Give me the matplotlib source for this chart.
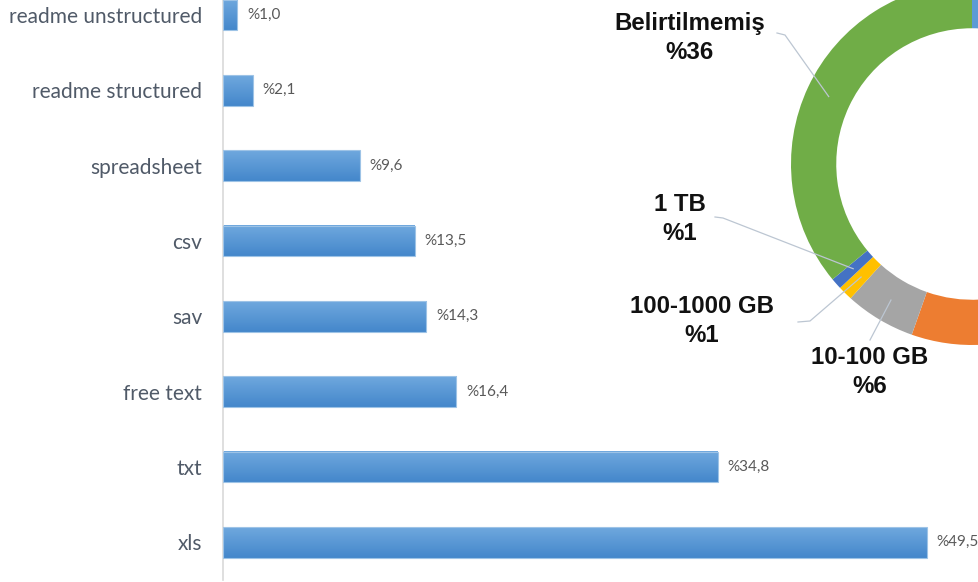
import numpy as np
import matplotlib
matplotlib.use("Agg")
import matplotlib.pyplot as plt
from matplotlib.colors import LinearSegmentedColormap

# bar chart data (top to bottom, as in the picture)
categories = ["readme unstructured", "readme structured", "spreadsheet", "csv",
              "sav", "free text", "txt", "xls"]
shares = [1.0, 2.1, 9.6, 13.5, 14.3, 16.4, 34.8, 49.5]
share_labels = ["%1,0", "%2,1", "%9,6", "%13,5", "%14,3", "%16,4", "%34,8", "%49,5"]

# donut data, clockwise from 12 o'clock; the first two slices are cut off in the picture
size_groups = ["", "", "10-100 GB", "100-1000 GB", "1 TB", "Belirtilmemiş"]
size_shares = [30.0, 25.4, 6.3, 1.3, 1.0, 36.0]
size_labels = ["", "", "%6", "%1", "%1", "%36"]
size_colors = ["#5B9BD5", "#ED7D31", "#A5A5A5", "#FFC000", "#4472C4", "#70AD47"]

W, H = 979, 582
fig = plt.figure(figsize=(W / 100, H / 100), dpi=100)

# ---- horizontal bar chart ----
ax = fig.add_axes([223 / W, 2 / H, (W - 223) / W, 580 / H])
ax.set_facecolor("none")
n = len(categories)
ypos = np.arange(n)[::-1]
bars = ax.barh(ypos, shares, height=0.405, color="none", edgecolor="#9DC3E6",
               linewidth=0.8, zorder=3)

grad = LinearSegmentedColormap.from_list("bar", ["#6FA8DE", "#4487CB"])
g = np.linspace(0, 1, 64).reshape(-1, 1)
for b in bars:
    x0, y0 = b.get_x(), b.get_y()
    ax.imshow(g, cmap=grad, aspect="auto", zorder=2,
              extent=[x0, x0 + b.get_width(), y0, y0 + b.get_height()])

for b, lab in zip(bars, share_labels):
    ax.annotate(lab, (b.get_width(), b.get_y() + b.get_height() / 2),
                xytext=(7, 0), textcoords="offset points", va="center", ha="left",
                fontsize=11, color="#595959", family="Lato")

ax.set_xlim(0, 756 / 14.22)
ax.set_ylim(-0.5, 7.2)
ax.set_yticks(ypos)
ax.set_yticklabels(categories, fontsize=15, color="#505A68", family="Lato")
ax.tick_params(axis="y", length=0, pad=15)
ax.set_xticks([])
for s in ["top", "right", "bottom"]:
    ax.spines[s].set_visible(False)
ax.spines["left"].set_color("#D9D9D9")
ax.spines["left"].set_linewidth(1.2)

# ---- donut chart (cut off by the right and top edge) ----
R = 181
cx, cy = 972, 164
ax2 = fig.add_axes([(cx - 200) / W, (H - cy - 200) / H, 400 / W, 400 / H])
ax2.set_facecolor("none")
wedges, _ = ax2.pie(size_shares, colors=size_colors, startangle=90, counterclock=False,
                    radius=1, wedgeprops=dict(width=0.25, linewidth=0))
lim = 200 / R
ax2.set_xlim(-lim, lim)
ax2.set_ylim(-lim, lim)
ax2.set_aspect("equal")
ax2.axis("off")

def px(x, y):
    return (x - cx) / R, (cy - y) / R

# label centre, and the leader line start/elbow, in picture pixels
label_pos = {2: (870, 372), 3: (702, 321), 4: (680, 219), 5: (690, 38)}
leader = {2: [(870, 340)], 3: [(798, 322), (810, 321)],
          4: [(715, 217), (723, 218)], 5: [(777, 33), (785, 35)]}

for i, (tx, ty) in label_pos.items():
    w = wedges[i]
    mid = np.deg2rad((w.theta1 + w.theta2) / 2)
    end = (0.875 * np.cos(mid), 0.875 * np.sin(mid))
    pts = [px(*p) for p in leader[i]] + [end]
    ax2.plot([p[0] for p in pts], [p[1] for p in pts], color="#BCC6D2",
             linewidth=0.9, clip_on=False, zorder=5)
    ax2.text(*px(tx, ty), size_groups[i] + "\n" + size_labels[i], ha="center",
             va="center", fontsize=17.3, fontweight="bold", family="Liberation Sans",
             color="#111111", linespacing=1.3, clip_on=False)

fig.savefig("out.png", dpi=100)
